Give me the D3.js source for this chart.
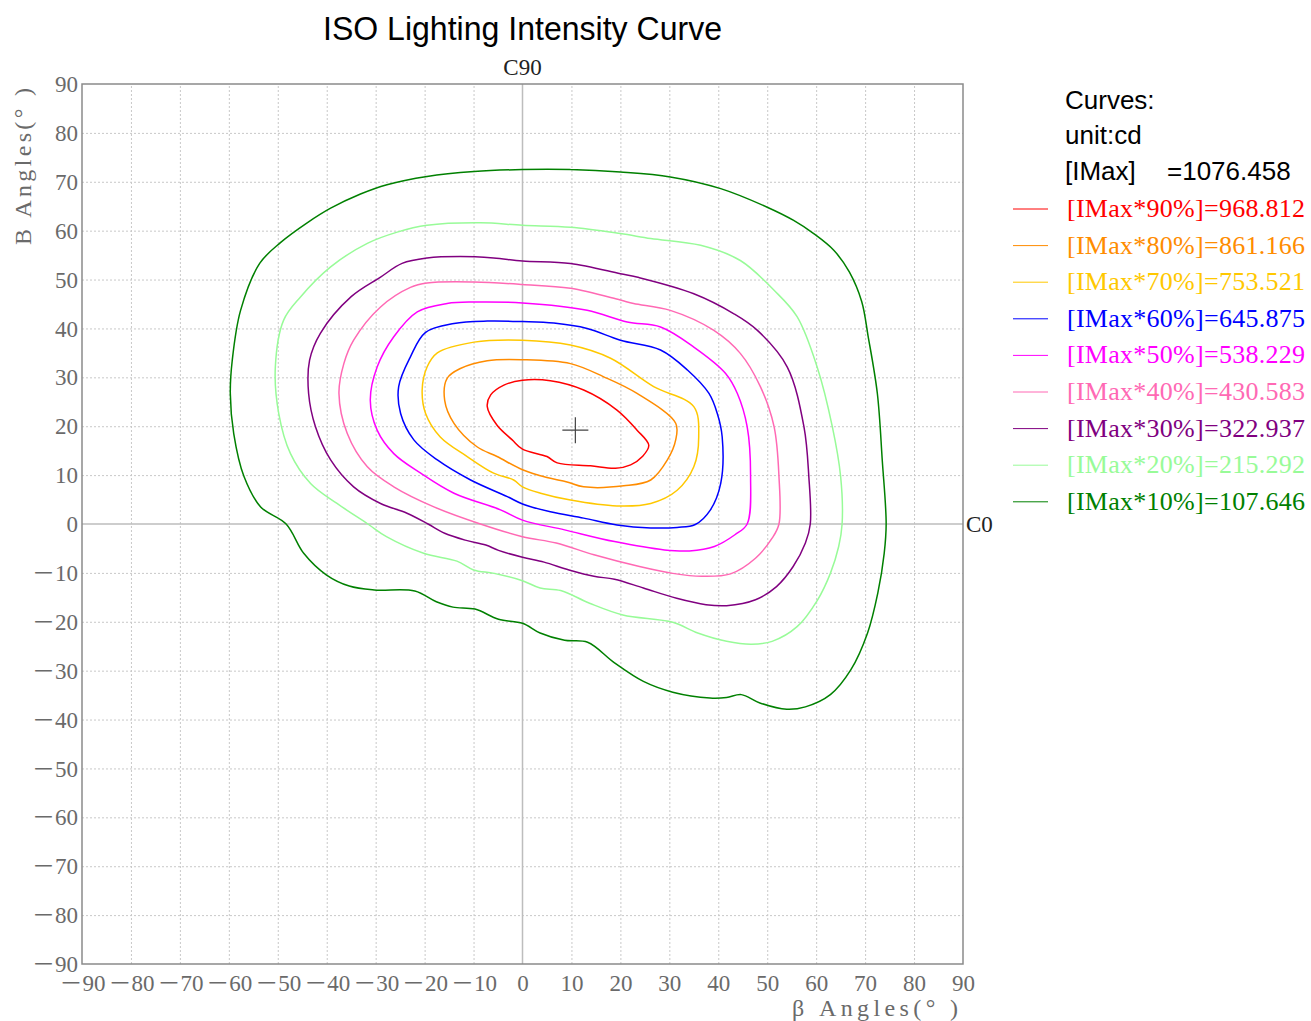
<!DOCTYPE html>
<html>
<head>
<meta charset="utf-8">
<script src="https://cdn.jsdelivr.net/npm/d3@7"></script>
<style>
  body { margin: 0; background: #fff; }
  .tick-label { font-family: "Liberation Serif", "Noto Sans CJK SC", serif; fill: #6a6a6a; }
</style>
</head>
<body>
<script>
//contour levels (beta, B) in degrees
var levels = [90, 80, 70, 60, 50, 40, 30, 20, 10];
var levelValues = ["968.812", "861.166", "753.521", "645.875", "538.229", "430.583", "322.937", "215.292", "107.646"];
var iMax = "1076.458";
var tickValues = d3.range(-90, 91, 10);
var peakPoint = [10.8, 19.2];

var c90 = [[0,29.4],[5.7,29.3],[12.5,27.4],[19.3,23.3],[23.4,19.2],[25.8,16.1],[24.5,13.8],[22.1,12.1],[19,11.4],[13.9,11.9],[7.1,12.5],[5,13.8],[0,15.3],[-2.1,17.2],[-5.2,20.2],[-7.2,24],[-6.5,26.4],[-3.8,28.4]];
var c80 = [[0,33.6],[9.8,32.8],[16.6,30.1],[23.4,26.7],[31.3,20.6],[31.3,17.2],[29.6,13.1],[26.2,9],[20.7,7.8],[12.5,7.6],[9.1,8.6],[5,9.5],[0,11.1],[-5.2,13.8],[-9.3,15.8],[-14,20.6],[-15.9,25.3],[-15.4,29.8],[-12.7,31.8],[-7.2,33.4]];
var c70 = [[0,37.6],[9.8,36.6],[18,33.9],[26.8,28.1],[35,24],[36,17.8],[35,11.7],[31.6,6.9],[26.2,4.2],[19.3,3.7],[9.8,4.9],[3.7,6.3],[0,7.6],[-1.8,9],[-5.9,10.4],[-11.3,13.8],[-16.8,17.8],[-19.8,22.6],[-20.5,27.4],[-19.5,32.1],[-17.4,35],[-9.9,37.2]];
var c60 = [[0,41.4],[6.4,41.1],[13.2,40],[20,37.6],[28.2,35.6],[33.7,31.5],[38.1,26.7],[39.8,22.6],[40.8,17.8],[40.5,8.3],[38.4,2.9],[35.3,-0.1],[31.6,-0.7],[26.2,-0.8],[19.3,-0.2],[12.5,1.2],[5.7,2.5],[0,4.1],[-3.1,5.6],[-10.6,9],[-17.4,13.1],[-22.2,17.2],[-24.9,22.6],[-25.3,28.1],[-22.9,34.2],[-19.8,39.2],[-14,41],[-7.2,41.5]];
var c50 = [[0,45.2],[13.2,43.7],[21.4,41.3],[28.2,40.3],[35,36.2],[41.5,30.8],[43.9,26.7],[45.9,19.9],[46.6,9.7],[45.9,0],[43.4,-2.2],[39.2,-4.6],[34.1,-5.5],[29,-5.3],[18.8,-3.6],[8.6,-1.2],[0,0.8],[-4.5,2.9],[-14,6.3],[-20.8,10.4],[-26.3,14.4],[-29.7,19.2],[-31.1,25.3],[-29.7,32.1],[-26.3,38.3],[-21.5,43.4],[-15.4,45.1],[-9.9,45.4]];
var c40 = [[0,49],[9.8,48.2],[20,45.8],[22.7,45.1],[30.2,43.7],[39.1,39.6],[44.5,34.9],[48.6,28.1],[51.4,19.9],[52.4,9.7],[52.4,0],[51,-2.9],[47.6,-7],[42.5,-10.2],[36.6,-10.7],[30.7,-10.1],[23.9,-8.7],[14.6,-6.3],[6.9,-3.9],[0,-2.6],[-8.6,0],[-18.1,3.5],[-26.3,7.6],[-31.7,11.7],[-35.8,18.5],[-37.5,26.7],[-36.5,32.8],[-34.5,37.6],[-29,44.4],[-22.9,48.4],[-19.5,49.3],[-9.9,49.5]];
var c30 = [[0,53.8],[9.8,53.3],[20,51.2],[23.8,50.4],[35,47.1],[43.2,43],[48,39.6],[54.1,32.1],[57.5,19.9],[58.5,9.7],[58.8,0],[57.8,-3.9],[55.3,-8.7],[51.9,-12.8],[47.6,-15.5],[41.7,-16.7],[37.5,-16.5],[31.5,-15.2],[24.7,-13.1],[18.8,-11.3],[14.6,-10.7],[9.5,-9.4],[4.4,-7.8],[0,-6.8],[-4.9,-5.4],[-7.5,-4.3],[-11.7,-3.3],[-15.9,-1.9],[-19.3,0],[-23.6,2.2],[-29,4.2],[-34.5,7.6],[-39.2,13.1],[-42.3,19.9],[-43.7,26.7],[-43.5,33.5],[-41.3,39],[-35,46.5],[-29,50.5],[-24.6,53.3],[-19.5,54.4],[-12.7,54.7],[-5.9,54.4]];
var c20 = [[0,61.1],[9.8,60.7],[20,59.4],[26.2,58.4],[36.4,57],[44.5,53.9],[51.4,47.8],[56.1,42.4],[60.2,32.1],[63.3,19.9],[65,9.7],[65.3,0],[64.6,-4.6],[62.9,-10.1],[60.3,-15.5],[56.1,-21],[51,-24],[46.8,-24.6],[41.7,-24],[35.8,-22.3],[30.7,-20.1],[20.5,-18.6],[13.7,-16.2],[7.8,-13.6],[3.6,-13.1],[0,-11.6],[-5.8,-10.1],[-10,-9.4],[-13.4,-7.6],[-20.2,-6],[-27.8,-2.6],[-31.6,0],[-37.9,4.2],[-43.3,8.3],[-47.4,14.4],[-49.8,22.6],[-50.5,32.1],[-48.8,41.7],[-45.4,46.4],[-39.2,52.6],[-31.7,57.4],[-25.6,59.7],[-19.5,61.1],[-8.6,61.6]];
var c10 = [[0,72.5],[9.8,72.5],[20,72],[30.2,71],[40.5,68.6],[50,64.8],[55.4,62.1],[59.5,59.4],[63.6,56],[66.8,51.5],[69.3,45.5],[70.6,38.5],[72.5,26.7],[73.5,13.1],[74.3,0],[73.9,-6],[72.6,-14.1],[70.5,-22.3],[67.1,-29.8],[62.9,-34.9],[57.8,-37.4],[54,-37.9],[48.5,-36.6],[44.7,-34.9],[41.7,-35.5],[38.3,-35.6],[30.7,-34.4],[24.7,-32.2],[18.8,-28.4],[13.3,-24.2],[8.6,-23.8],[3.6,-22.3],[0,-20.3],[-4.9,-19.5],[-9.7,-17.4],[-14.2,-17],[-17.6,-15.9],[-22,-13.7],[-30.3,-13.5],[-35.4,-12.7],[-40.1,-10.4],[-44.7,-6],[-48.3,0],[-53.5,3.5],[-56.9,9.7],[-59,18.5],[-59.7,26.7],[-59.3,33.5],[-57.6,43.7],[-53.7,53.3],[-49.4,57.6],[-44,61.6],[-39.2,64.6],[-33.1,67.5],[-27.7,69.4],[-19.5,71.1],[-9.9,72.1]];

var contours = [c90, c80, c70, c60, c50, c40, c30, c20, c10];
var colors = ["#ff0000", "#ff8c00", "#ffc800", "#0000ff", "#ff00ff", "#ff69b4", "#800080", "#98fb98", "#008000"];

(function(){
    var width = 1311, height = 1021;
    var left = 82, right = 963, top = 84, bottom = 964;

    var svg = d3.select("body").append("svg")
        .attr("width", width)
        .attr("height", height);

    var x = d3.scaleLinear().domain([-90, 90]).range([left, right]);
    var y = d3.scaleLinear().domain([-90, 90]).range([bottom, top]);

    //minus sign like the original (full width)
    var fmt = function(d){ return d < 0 ? "\uFF0D" + Math.abs(d) : String(d); };

    //dotted grid
    var gridVals = tickValues.filter(function(d){ return d !== 0 && Math.abs(d) !== 90; });
    svg.append("g")
        .attr("transform", "translate(0," + bottom + ")")
        .call(d3.axisBottom(x).tickValues(gridVals).tickSize(-(bottom - top)).tickFormat(""))
        .call(function(g){
            g.select(".domain").remove();
            g.selectAll("line").attr("stroke", "#c8c8c8").attr("stroke-dasharray", "2,2");
        });
    svg.append("g")
        .attr("transform", "translate(" + left + ",0)")
        .call(d3.axisLeft(y).tickValues(gridVals).tickSize(-(right - left)).tickFormat(""))
        .call(function(g){
            g.select(".domain").remove();
            g.selectAll("line").attr("stroke", "#c8c8c8").attr("stroke-dasharray", "2,2");
        });

    //zero axes
    svg.append("line")
        .attr("x1", x(0)).attr("x2", x(0)).attr("y1", top).attr("y2", bottom)
        .attr("stroke", "#bdbdbd").attr("stroke-width", 1.5);
    svg.append("line")
        .attr("x1", left).attr("x2", right).attr("y1", y(0)).attr("y2", y(0))
        .attr("stroke", "#bdbdbd").attr("stroke-width", 1.5);

    //frame
    svg.append("rect")
        .attr("x", left).attr("y", top)
        .attr("width", right - left).attr("height", bottom - top)
        .attr("fill", "none").attr("stroke", "#8a8a8a").attr("stroke-width", 1.5);

    //tick labels
    svg.append("g")
        .attr("transform", "translate(0," + bottom + ")")
        .call(d3.axisBottom(x).tickValues(tickValues).tickSize(0).tickFormat(fmt))
        .call(function(g){
            g.select(".domain").remove();
            g.selectAll("text").attr("class", "tick-label")
                .attr("y", 19).attr("dy", "0.35em")
                .style("font-size", "23px");
        });
    svg.append("g")
        .attr("transform", "translate(" + left + ",0)")
        .call(d3.axisLeft(y).tickValues(tickValues).tickSize(0).tickPadding(4).tickFormat(fmt))
        .call(function(g){
            g.select(".domain").remove();
            g.selectAll("text").attr("class", "tick-label")
                .attr("dy", "0.33em")
                .style("font-size", "23px");
        });

    //axis titles
    svg.append("text")
        .attr("class", "tick-label")
        .attr("x", 958).attr("y", 1016)
        .attr("text-anchor", "end")
        .attr("textLength", 166)
        .attr("lengthAdjust", "spacing")
        .style("font-size", "24px")
        .text("\u03B2  Angles(\u00B0 )");
    svg.append("text")
        .attr("class", "tick-label")
        .attr("transform", "translate(31,245) rotate(-90)")
        .attr("textLength", 157)
        .attr("lengthAdjust", "spacing")
        .style("font-size", "24px")
        .text("B Angles(\u00B0 )");

    svg.append("text")
        .attr("x", x(0)).attr("y", 75)
        .attr("text-anchor", "middle")
        .style("font-family", "Liberation Serif, serif")
        .style("font-size", "23px")
        .attr("fill", "#222")
        .text("C90");
    svg.append("text")
        .attr("x", right + 3).attr("y", y(0))
        .attr("dy", "0.35em")
        .style("font-family", "Liberation Serif, serif")
        .style("font-size", "23px")
        .attr("fill", "#222")
        .text("C0");

    //title
    svg.append("text")
        .attr("x", x(0)).attr("y", 40)
        .attr("text-anchor", "middle")
        .attr("textLength", 399)
        .attr("lengthAdjust", "spacingAndGlyphs")
        .style("font-family", "Liberation Sans, Arial, sans-serif")
        .style("font-size", "34px")
        .attr("fill", "#000")
        .text("ISO Lighting Intensity Curve");

    //contours
    var line = d3.line()
        .x(function(d){ return x(d[0]); })
        .y(function(d){ return y(d[1]); })
        .curve(d3.curveCatmullRomClosed.alpha(0.5));

    svg.append("g").selectAll("path")
        .data(contours)
        .enter()
        .append("path")
        .attr("d", line)
        .attr("fill", "none")
        .attr("stroke", function(d, i){ return colors[i]; })
        .attr("stroke-width", 1.5);

    //peak marker
    var px = x(peakPoint[0]), py = y(peakPoint[1]);
    svg.append("path")
        .attr("d", "M" + (px - 13) + "," + py + "H" + (px + 13) + "M" + px + "," + (py - 13) + "V" + (py + 13))
        .attr("stroke", "#444").attr("stroke-width", 1.2);

    //legend
    var lx = 1065;
    var head = svg.append("g")
        .style("font-family", "Liberation Sans, Arial, sans-serif")
        .style("font-size", "26px")
        .attr("fill", "#000");
    head.append("text").attr("x", lx).attr("y", 109).text("Curves:");
    head.append("text").attr("x", lx).attr("y", 144).text("unit:cd");
    head.append("text").attr("x", lx).attr("y", 180).text("[IMax]");
    head.append("text").attr("x", 1167).attr("y", 180).text("=" + iMax);

    var rows = svg.append("g").selectAll("g")
        .data(levels)
        .enter()
        .append("g")
        .attr("transform", function(d, i){ return "translate(0," + (217 + i * 36.6) + ")"; });
    rows.append("line")
        .attr("x1", 1013).attr("x2", 1048)
        .attr("y1", -8).attr("y2", -8)
        .attr("stroke", function(d, i){ return colors[i]; })
        .attr("stroke-width", 1);
    rows.append("text")
        .attr("x", 1067)
        .attr("textLength", 238)
        .attr("lengthAdjust", "spacing")
        .style("font-family", "Liberation Serif, serif")
        .style("font-size", "26px")
        .attr("fill", function(d, i){ return colors[i]; })
        .text(function(d, i){ return "[IMax*" + d + "%]=" + levelValues[i]; });
})();
</script>
</body>
</html>
